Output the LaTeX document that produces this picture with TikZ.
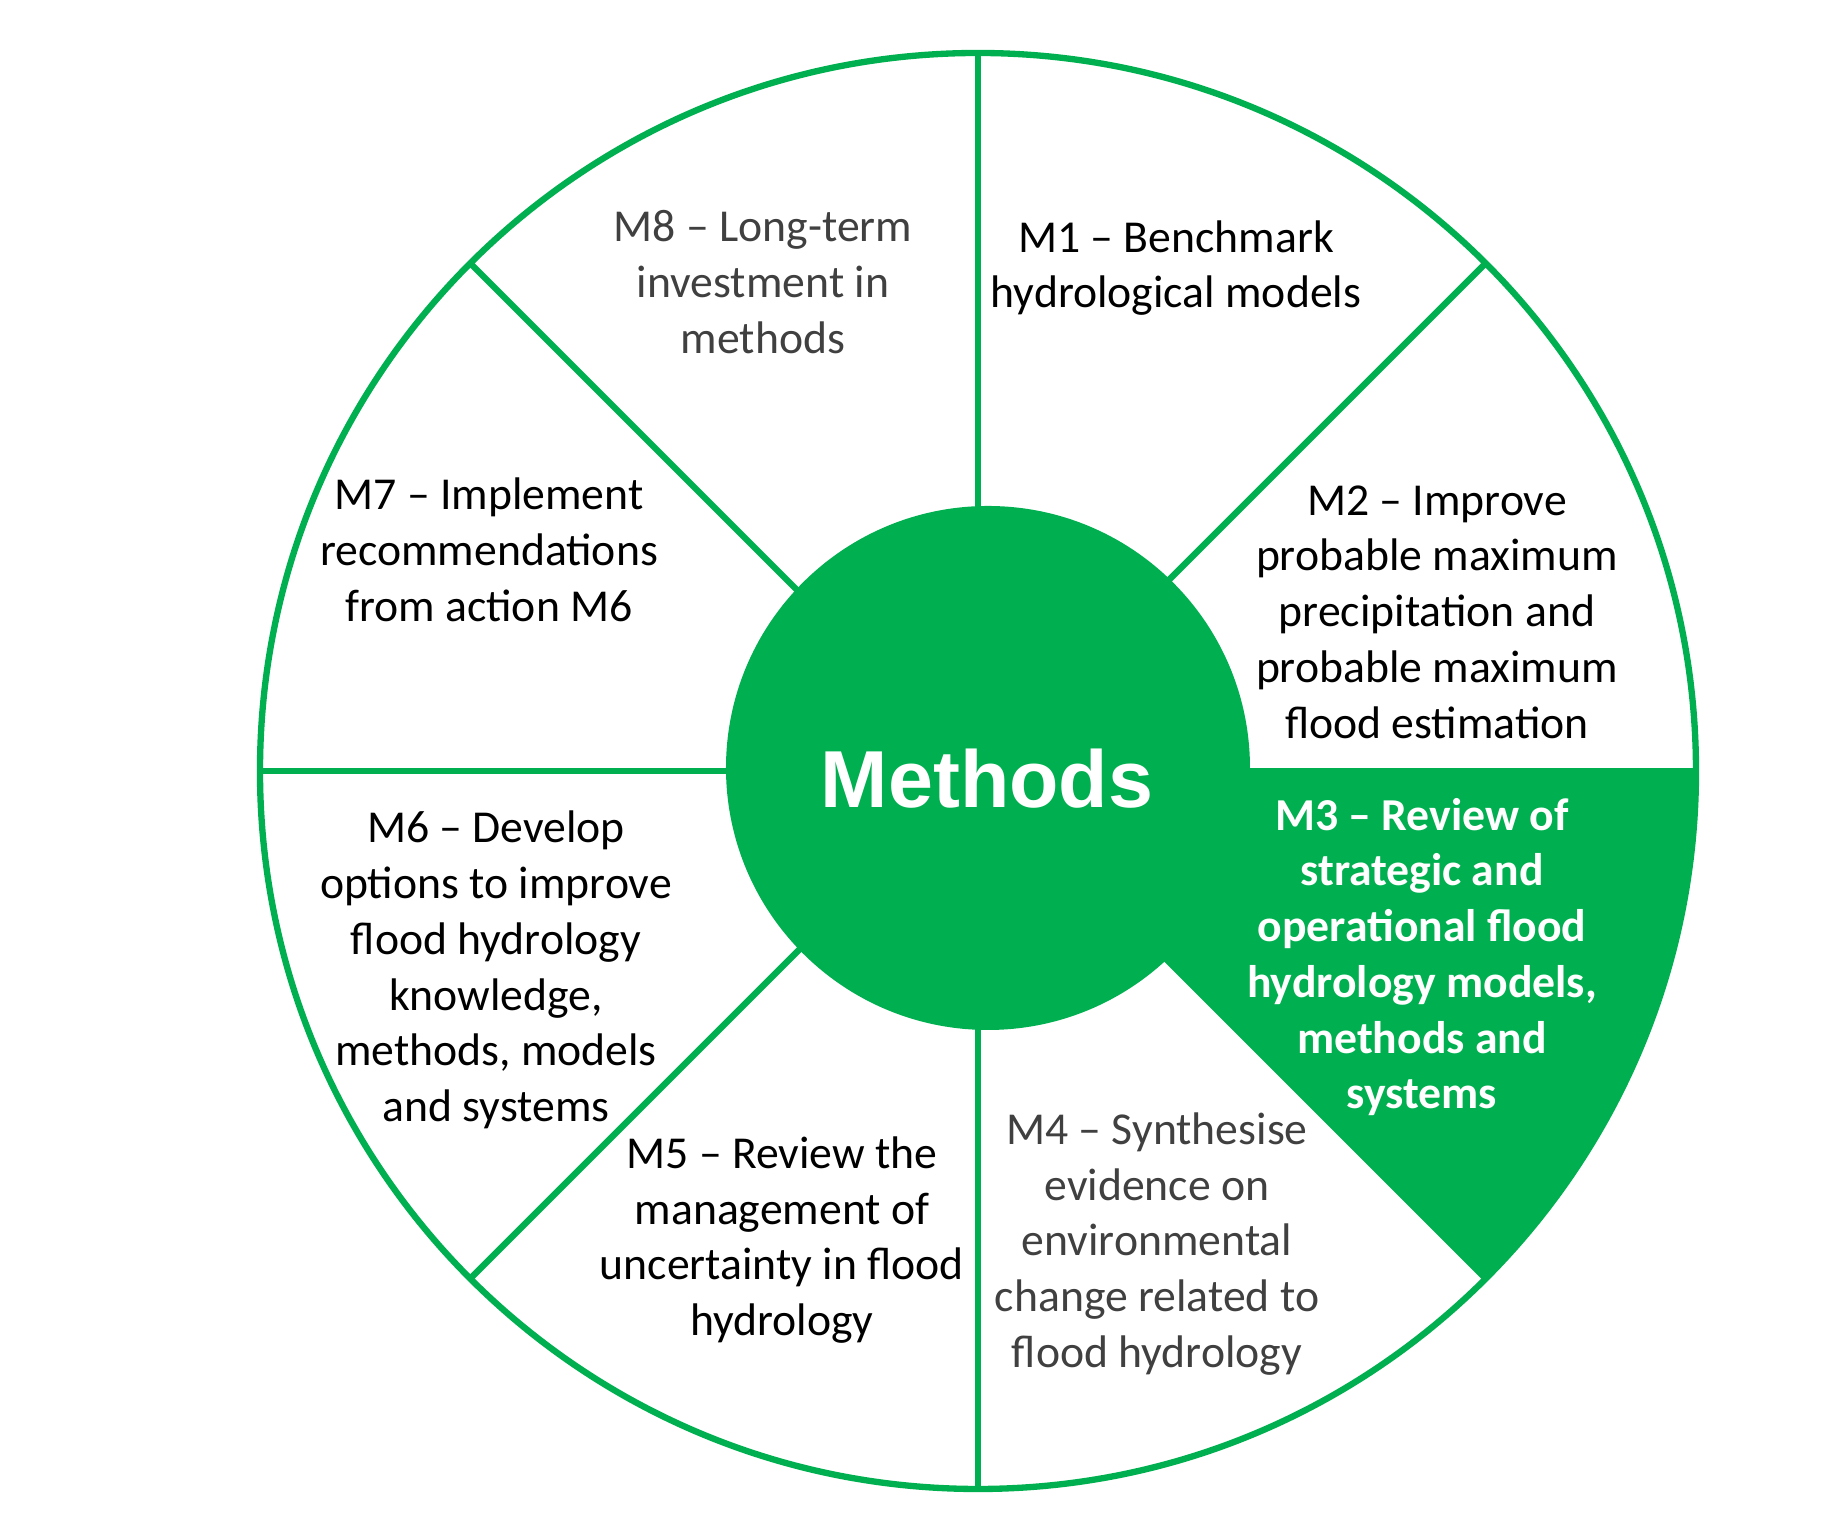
\documentclass[tikz,border=0pt]{standalone}
\usepackage{fontspec}
\setmainfont{Carlito}
\newfontfamily\hubfont{Liberation Sans}
\definecolor{methgreen}{HTML}{00B050}
\definecolor{softgrey}{HTML}{404040}
\tikzset{
	spoke/.style={draw=methgreen,line width=1.8pt},
	action/.style={align=center,inner sep=0pt,font=\fontsize{13}{15.86}\selectfont},
}
\begin{document}
\begin{tikzpicture}
	\useasboundingbox (-9.78,-7.63) rectangle (8.60,7.71);
	\coordinate (O) at (0,0);
	% highlighted sector M3
	\fill[methgreen] (O) -- (-45:7.18) arc (-45:0:7.18) -- cycle;
	
	\draw[spoke] (O) circle (7.18);
	\foreach \a in {0,45,...,315}
		\draw[spoke] (O) -- (\a:7.18);
	
	\node[circle,fill=methgreen,minimum size=5.24cm,inner sep=0pt] (hub) at (0.10,0.03) {};
	\node[font=\hubfont\bfseries\fontsize{23}{27}\selectfont,text=white] (title) at (0.09,-0.08) {Methods};
	
	\begin{scope}[every node/.style={action}]
		\node (m1) at (1.98,5.03) {M1 -- Benchmark\\hydrological models};
		\node (m2) at (4.59,1.59) {M2 -- Improve\\probable maximum\\precipitation and\\probable maximum\\flood estimation};
		\node[text=white,font=\bfseries\fontsize{13}{15.86}\selectfont] (m3) at (4.44,-1.86) {M3 -- Review of\\strategic and\\operational flood\\hydrology models,\\methods and\\systems};
		\node[text=softgrey] (m4) at (1.79,-4.73) {M4 -- Synthesise\\evidence on\\environmental\\change related to\\flood hydrology};
		\node (m5) at (-1.96,-4.69) {M5 -- Review the\\management of\\uncertainty in flood\\hydrology};
		\node (m6) at (-4.82,-1.99) {M6 -- Develop\\options to improve\\flood hydrology\\knowledge,\\methods, models\\and systems};
		\node (m7) at (-4.89,2.21) {M7 -- Implement\\recommendations\\from action M6};
		\node[text=softgrey] (m8) at (-2.15,4.89) {M8 -- Long-term\\investment in\\methods};
	\end{scope}
\end{tikzpicture}
\end{document}
